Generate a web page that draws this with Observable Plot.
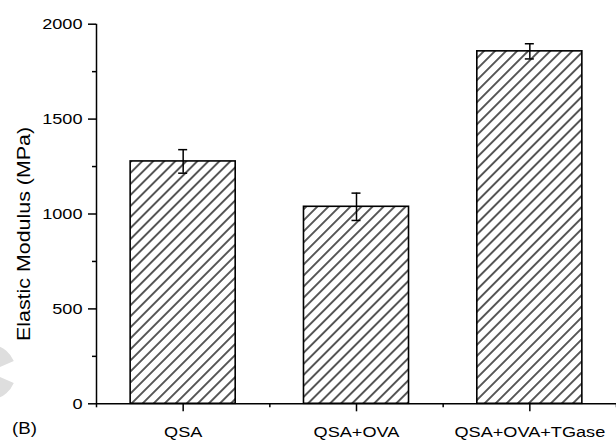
<!DOCTYPE html>
<html>
<head>
<meta charset="utf-8">
<script src="https://cdn.jsdelivr.net/npm/d3@7"></script>
<script src="https://cdn.jsdelivr.net/npm/@observablehq/plot@0.6"></script>
<style>
  body { margin: 0; background: #fff; }
  svg { display: block; }
</style>
</head>
<body>
<div id="chart"></div>
<script>
// Elastic modulus of the three film formulations (mean ± SD)
const samples = ["QSA", "QSA+OVA", "QSA+OVA+TGase"];
const modulus = [1277, 1038, 1857];
const modulusSd = [62, 72, 40];
const yTicks = [0, 500, 1000, 1500, 2000];
const yMinorTicks = [250, 750, 1250, 1750];

const rows = samples.map((name, i) => ({
  name, i,
  mean: modulus[i],
  lo: modulus[i] - modulusSd[i],
  hi: modulus[i] + modulusSd[i]
}));
const positions = samples.map((_, i) => i);
const boundaries = [-0.5, ...positions.map(i => i + 0.5)];
const barHalf = 0.303;   // half bar width, in category units
const ink = "#000";
const textWidth = 1.17;  // the lettering is set slightly expanded
const font = '"Liberation Sans", Arial, sans-serif';

const chart = Plot.plot({
  width: 616,
  height: 440,
  marginLeft: 96,
  marginRight: 0,
  marginTop: 23.7,
  marginBottom: 36.7,
  style: {
    fontFamily: font,
    fontSize: "15.5px",
    color: ink,
    background: "#fff",
    overflow: "visible"
  },
  x: {domain: [-0.5, 2.5], label: null},
  y: {domain: [0, 2000], label: null},
  marks: [
    Plot.rectY(rows, {
      x1: d => d.i - barHalf, x2: d => d.i + barHalf, y1: 0, y2: "mean",
      fill: "url(#hatch)", stroke: ink, strokeWidth: 1.6
    }),
    Plot.ruleX(rows, {x: "i", y1: "lo", y2: "hi", stroke: ink, strokeWidth: 1.5}),
    Plot.ruleY(rows, {y: "hi", x1: "i", x2: "i", insetLeft: -4.5, insetRight: -4.5, stroke: ink, strokeWidth: 1.5}),
    Plot.ruleY(rows, {y: "lo", x1: "i", x2: "i", insetLeft: -4.5, insetRight: -4.5, stroke: ink, strokeWidth: 1.5}),
    // axis lines
    Plot.ruleX([-0.5], {stroke: ink, strokeWidth: 1.5}),
    Plot.ruleY([0], {stroke: ink, strokeWidth: 1.5}),
    // y axis
    Plot.axisY(yTicks, {tickSize: 8, tickPadding: 6, strokeWidth: 1.5, label: null,
      tickFormat: d => String(d), fontSize: 15.5, fill: ink}),
    Plot.axisY(yMinorTicks, {tickSize: 4, text: null, strokeWidth: 1.5, label: null}),
    // x axis
    Plot.axisX(positions, {tickSize: 8, tickPadding: 14, strokeWidth: 1.5, label: null,
      tickFormat: i => samples[i], fontSize: 15.5, fill: ink}),
    Plot.axisX(boundaries, {tickSize: 4, text: null, strokeWidth: 1.5, label: null}),
    // axis title and panel letter
    Plot.text(["Elastic Modulus (MPa)"], {
      frameAnchor: "left", rotate: -90, dx: -72.5, dy: 20,
      fontSize: 18.3, fill: ink, textAnchor: "middle", lineAnchor: "middle"
    }),
    Plot.text(["(B)"], {
      frameAnchor: "bottom-left", dx: -72, dy: 25,
      fontSize: 16, fill: ink, textAnchor: "middle", lineAnchor: "middle"
    })
  ]
});

// widen every label about its own anchor point
chart.querySelectorAll("text").forEach(t => {
  const x = parseFloat(t.getAttribute("x")) || 0;
  const tr = t.getAttribute("transform") || "";
  t.setAttribute("transform",
    `${tr} translate(${x},0) scale(${textWidth},1) translate(${-x},0)`.trim());
});

const svg = d3.select(chart);

// diagonal hatch fill for the bars
const defs = svg.insert("defs", ":first-child");
const pat = defs.append("pattern")
  .attr("id", "hatch")
  .attr("patternUnits", "userSpaceOnUse")
  .attr("width", 7.8)
  .attr("height", 7.8)
  .attr("patternTransform", "rotate(45)");
pat.append("rect").attr("width", 7.8).attr("height", 7.8).attr("fill", "#fff");
pat.append("line")
  .attr("x1", 3.9).attr("y1", -1).attr("x2", 3.9).attr("y2", 8.8)
  .attr("stroke", ink).attr("stroke-width", 1.3);

// faint grey smudge at the left edge
const smudge = d3.arc()
  .innerRadius(11)
  .outerRadius(28)
  .startAngle(Math.PI / 2 + 0.4)
  .endAngle(2.5 * Math.PI - 0.4);
svg.insert("path", "defs + *")
  .attr("transform", "translate(-12,372)")
  .attr("d", smudge())
  .attr("fill", "#dedede");

document.getElementById("chart").appendChild(chart);
</script>
</body>
</html>
